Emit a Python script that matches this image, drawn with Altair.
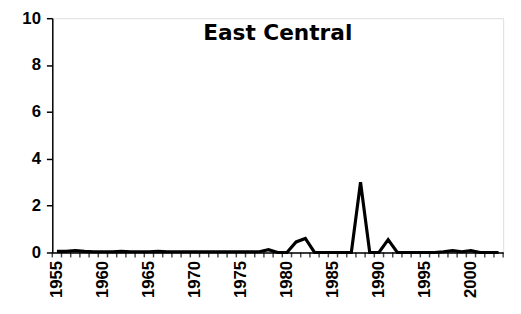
import altair as alt
import pandas as pd

years = list(range(1955, 2004))
values = [
    0.05, 0.05, 0.08, 0.05, 0.03, 0.03, 0.03, 0.05, 0.03, 0.03,  # 1955-1964
    0.03, 0.05, 0.03, 0.03, 0.03, 0.03, 0.03, 0.03, 0.03, 0.03,  # 1965-1974
    0.03, 0.03, 0.03, 0.12, 0.0, 0.0, 0.45, 0.6, 0.0, 0.0,       # 1975-1984
    0.0, 0.0, 0.0, 3.0, 0.0, 0.0, 0.55, 0.0, 0.0, 0.0,           # 1985-1994
    0.0, 0.0, 0.03, 0.08, 0.03, 0.08, 0.0, 0.0, 0.0,             # 1995-2003
]
label_years = [1955, 1960, 1965, 1970, 1975, 1980, 1985, 1990, 1995, 2000]
boundaries = [y - 0.5 for y in years] + [years[-1] + 0.5]
y_ticks = [0, 2, 4, 6, 8, 10]
title_text = "East Central"

df = pd.DataFrame({"year": years, "value": values})

font = "Liberation Sans"
xscale = alt.Scale(domain=[1954.5, 2003.5], nice=False, zero=False)
xaxis = alt.Axis(
    values=label_years, labelAngle=-90, labelAlign="right", labelBaseline="middle",
    format="d", ticks=False, labelPadding=8, domain=True, domainColor="black",
    domainWidth=1.5, grid=False, labelFont=font, labelFontSize=17,
    labelFontWeight="bold", labelColor="black", title=None, labelOverlap=False,
)

line = alt.Chart(df).mark_line(color="black", strokeWidth=3.2, strokeJoin="miter").encode(
    x=alt.X("year:Q", scale=xscale, axis=xaxis),
    y=alt.Y(
        "value:Q",
        scale=alt.Scale(domain=[0, 10], nice=False),
        axis=alt.Axis(
            values=y_ticks, tickSize=6, tickColor="black", tickWidth=1.5,
            domainColor="black", domainWidth=1.5, grid=False, labelPadding=6,
            labelFont=font, labelFontSize=17, labelFontWeight="bold",
            labelColor="black", title=None,
        ),
    ),
)

tick_df = pd.DataFrame({"b": boundaries})
ticks = alt.Chart(tick_df).mark_tick(color="black", thickness=1.5, size=5, orient="vertical").encode(
    x=alt.X("b:Q", scale=xscale, axis=xaxis),
    y=alt.value(240.5),
)

title = alt.Chart(pd.DataFrame({"t": [title_text]})).mark_text(
    font="DejaVu Sans", fontSize=22, fontWeight="bold", color="black",
    align="center", baseline="alphabetic",
).encode(text="t:N", x=alt.value(229), y=alt.value(22.5))

chart = alt.layer(line, ticks, title).properties(
    width=458,
    height=238,
    autosize=alt.AutoSizeParams(type="none"),
    padding={"left": 45, "top": 8, "right": 10, "bottom": 52},
).configure_view(stroke=None).configure(background="white")

chart.save("out.html", embed_options={"renderer": "svg", "actions": False})
